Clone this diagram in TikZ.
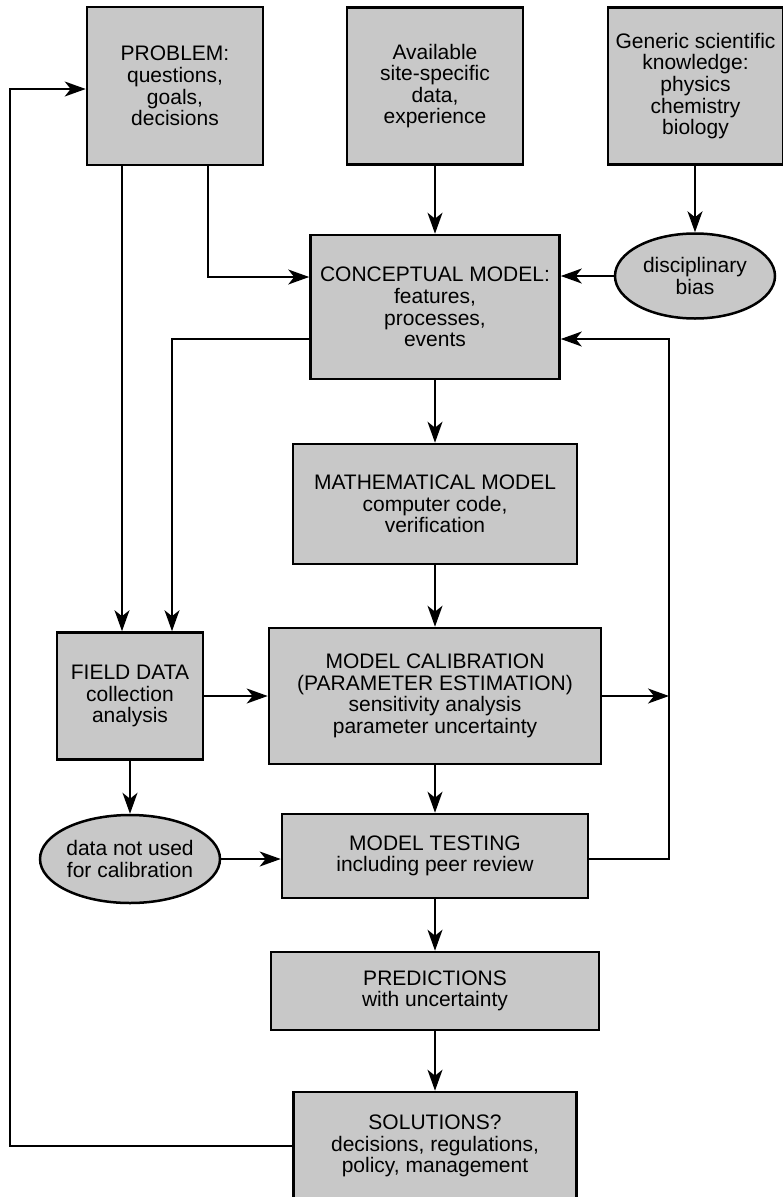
\documentclass[tikz,border=0pt]{standalone}
\usepackage{fontspec}
\setmainfont{Liberation Sans}
\usetikzlibrary{arrows.meta,shapes.geometric}
\definecolor{boxgray}{RGB}{200,200,200}
\begin{document}
\begin{tikzpicture}[x=1pt,y=-1pt,
  box/.style={draw, line width=2.6pt, fill=boxgray, align=center, inner sep=0pt,
    font=\fontsize{21}{21.6}\selectfont},
  oval/.style={ellipse, draw, line width=2.5pt, fill=boxgray, align=center, inner sep=0pt,
    font=\fontsize{21}{21.6}\selectfont},
  conn/.style={line width=1.6pt, -{Stealth[length=21pt,width=15pt,inset=6pt]}},
  plain/.style={line width=1.6pt}]
\useasboundingbox (0,0) rectangle (783,1197);

% nodes
\node[box, minimum width=176pt, minimum height=158pt] (prob) at (175,86)
  {PROBLEM:\\questions,\\goals,\\decisions};
\node[box, minimum width=176pt, minimum height=157pt] (avail) at (435,86)
  {Available\\site-specific\\data,\\experience};
\node[box, minimum width=175pt, minimum height=157pt] (gen) at (695.5,86)
  {Generic scientific\\knowledge:\\physics\\chemistry\\biology};
\node[box, minimum width=249pt, minimum height=144pt] (conc) at (435,307)
  {CONCEPTUAL MODEL:\\features,\\processes,\\events};
\node[oval, minimum width=160pt, minimum height=85pt] (bias) at (695,276)
  {disciplinary\\bias};
\node[box, minimum width=284pt, minimum height=120pt] (math) at (435,504)
  {MATHEMATICAL MODEL\\computer code,\\verification};
\node[box, minimum width=146pt, minimum height=127pt] (field) at (130,696)
  {FIELD DATA\\collection\\analysis};
\node[box, minimum width=332pt, minimum height=136pt] (calib) at (435,696)
  {MODEL CALIBRATION\\(PARAMETER ESTIMATION)\\sensitivity analysis\\parameter uncertainty};
\node[oval, minimum width=170pt, minimum height=88pt] (datanot) at (130,859)
  {data not used\\for calibration};
\node[box, minimum width=306pt, minimum height=84pt] (test) at (435,856)
  {MODEL TESTING\\including peer review};
\node[box, minimum width=328pt, minimum height=78pt] (pred) at (435,991)
  {PREDICTIONS\\with uncertainty};
\node[box, minimum width=283pt, minimum height=108pt] (sol) at (435,1146)
  {SOLUTIONS?\\decisions, regulations,\\policy, management};

% helper coordinates
\coordinate (loopT) at (10,89);
\coordinate (xL1) at (122,0);
\coordinate (c3) at (208,277);
\coordinate (c7) at (172,339);
\coordinate (xR) at (669,0);

% connectors
\draw[conn] (sol.west) -| (loopT) -- (loopT -| prob.west);
\draw[conn] (prob.south -| xL1) -- (field.north -| xL1);
\draw[conn] (prob.south -| c3) |- (c3 -| conc.west);
\draw[conn] (avail.south) -- (conc.north);
\draw[conn] (gen.south -| bias.north) -- (bias.north);
\draw[conn] (bias.west) -- (bias.west -| conc.east);
\draw[conn] (c7 -| conc.west) -| (field.north -| c7);
\draw[conn] (conc.south) -- (math.north);
\draw[conn] (math.south) -- (calib.north);
\draw[conn] (field.east) -- (field.east -| calib.west);
\draw[conn] (calib.east) -- (calib.east -| xR);
\draw[conn] (test.east |- datanot.east) -| (xR |- c7) -- (c7 -| conc.east);
\draw[conn] (field.south) -- (datanot.north);
\draw[conn] (datanot.east) -- (datanot.east -| test.west);
\draw[conn] (calib.south) -- (test.north);
\draw[conn] (test.south) -- (pred.north);
\draw[conn] (pred.south) -- (sol.north);
\end{tikzpicture}
\end{document}
